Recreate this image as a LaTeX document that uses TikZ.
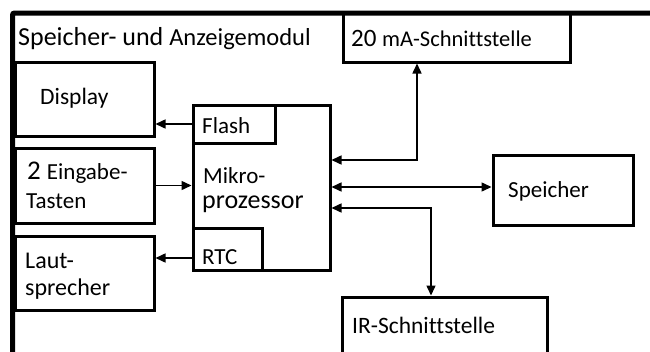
\documentclass[tikz,border=0pt]{standalone}
\usepackage{fontspec}
\setmainfont[Ligatures=NoCommon]{Carlito}
\usetikzlibrary{arrows.meta,calc}
\tikzset{
  box/.style={draw, line width=3pt, rectangle, inner sep=0pt},
  lbl/.style={anchor=base west, inner sep=0pt, font=\fontsize{23}{28}\selectfont},
  conn/.style={line width=1.5pt},
  tip/.style={-{Triangle[length=10pt,width=9pt]}},
  bitip/.style={{Triangle[length=10pt,width=9pt]}-{Triangle[length=10pt,width=9pt]}}
}
\begin{document}
\begin{tikzpicture}[x=1pt,y=-1pt]
\useasboundingbox (0,0) rectangle (650,351);
\clip (0,0) rectangle (650,351);
\fill[white] (0,0) rectangle (650,351);
% outer module frame
\draw[line width=5pt, rounded corners=2pt] (12.5,360) -- (12.5,13) -- (660,13);
% boxes
\node[box, minimum width=227pt, minimum height=49pt] (ma) at (456.5,37.5) {};
\node[box, minimum width=139pt, minimum height=74pt] (display) at (84.5,99.5) {};
\node[box, minimum width=139pt, minimum height=75pt] (eingabe) at (84.5,185.5) {};
\node[box, minimum width=139pt, minimum height=74pt] (laut) at (84.5,273) {};
\node[box, minimum width=137pt, minimum height=165pt] (micro) at (261.5,187.5) {};
\node[box, minimum width=82pt, minimum height=38pt] (flash) at (234,124) {};
\node[box, minimum width=69pt, minimum height=42pt] (rtc) at (227.5,249) {};
\node[box, minimum width=140pt, minimum height=70pt] (speicher) at (563,190) {};
\node[box, minimum width=205pt, minimum height=80pt] (ir) at (444.5,337) {};
% texts
\node[lbl] (tmod) at (18,45) {\fontsize{26}{28}\selectfont Speicher- und \fontsize{24.5}{28}\selectfont Anzeigemodul};
\node[lbl] (tma) at (351,46) {\fontsize{25}{28}\selectfont 20 \fontsize{22.5}{28}\selectfont mA-Schnittstelle};
\node[lbl, font=\fontsize{23.5}{28}\selectfont] (tdisp) at (40,104.5) {Display};
\node[lbl] (tein1) at (27,179) {\fontsize{27}{28}\selectfont 2 \fontsize{23}{28}\selectfont Eingabe-};
\node[lbl] (tein2) at (26,208) {Tasten};
\node[lbl, font=\fontsize{24}{28}\selectfont] (tlaut1) at (25,268) {Laut-};
\node[lbl, font=\fontsize{24}{28}\selectfont] (tlaut2) at (25,295) {sprecher};
\node[lbl] (tflash) at (202,133) {Flash};
\node[lbl] (tmik1) at (203,183) {Mikro-};
\node[lbl, font=\fontsize{26}{28}\selectfont] (tmik2) at (202,208) {prozessor};
\node[lbl] (trtc) at (202,264) {RTC};
\node[lbl] (tsp) at (508,197) {Speicher};
\node[lbl, font=\fontsize{23.5}{28}\selectfont] (tir) at (352,333) {IR-Schnittstelle};
% connectors
\draw[conn,tip] (flash.west) -- (flash.west -| display.east);
\draw[conn,tip] (eingabe.east) -- (eingabe.east -| micro.west);
\draw[conn,tip] (rtc.west |- {0,258}) -- (laut.east |- {0,258});
\coordinate (c1) at (417,160);
\draw[conn,bitip] (micro.east |- c1) -- (c1) -- (c1 |- ma.south);
\draw[conn,bitip] (micro.east |- {0,187}) -- (speicher.west |- {0,187});
\coordinate (c2) at (431,208);
\draw[conn,bitip] (micro.east |- c2) -- (c2) -- (c2 |- ir.north);
\end{tikzpicture}
\end{document}
